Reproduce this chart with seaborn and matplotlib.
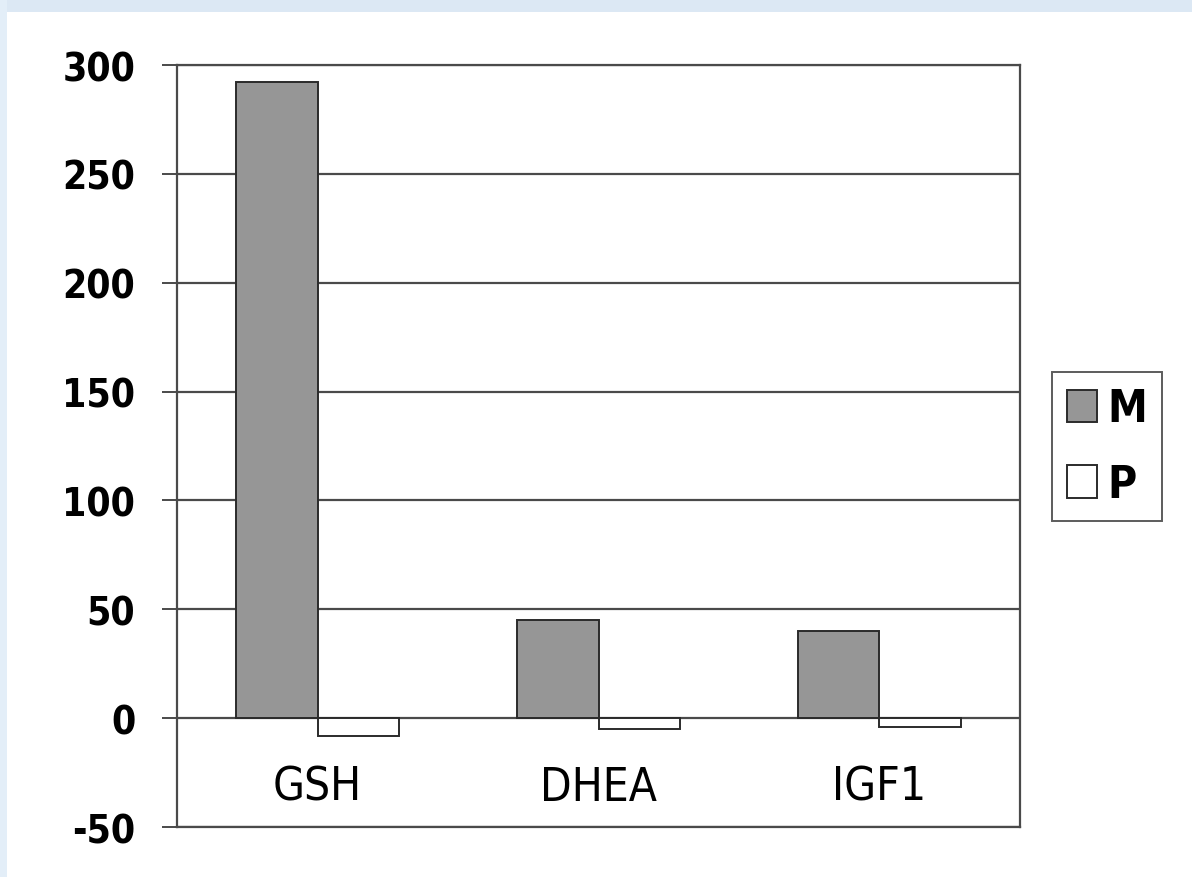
import matplotlib
matplotlib.use("Agg")
import matplotlib.pyplot as plt
import pandas as pd
import seaborn as sns
from matplotlib.patches import Rectangle

# Values
categories = ["GSH", "DHEA", "IGF1"]
m_values = [292, 45, 40]
p_values = [-8, -5, -4]
series = ["M", "P"]
y_ticks = [-50, 0, 50, 100, 150, 200, 250, 300]

df = pd.DataFrame({
    "category": categories * 2,
    "series": ["M"] * len(categories) + ["P"] * len(categories),
    "value": m_values + p_values,
})

sns.set_theme(style="white")
plt.rcParams["font.family"] = ["DejaVu Sans"]

fig = plt.figure(figsize=(11.92, 8.78), dpi=100)
fig.patch.set_facecolor("white")
# faint blue frame of the slide behind the chart
fig.patches.append(Rectangle((0, 0.985), 1, 0.015, transform=fig.transFigure,
                             facecolor="#dce8f4", edgecolor="none", zorder=-1))
fig.patches.append(Rectangle((0, 0), 0.006, 1, transform=fig.transFigure,
                             facecolor="#e3eef8", edgecolor="none", zorder=-1))

ax = fig.add_axes([0.1485, 0.0569, 0.7072, 0.8679])
ax.set_facecolor("white")

sns.barplot(data=df, x="category", y="value", hue="series", hue_order=series,
            order=categories, palette=["#969696", "white"], width=0.58, gap=0,
            edgecolor="#2b2b2b", linewidth=1.4, saturation=1, ax=ax, zorder=3)

ax.set_ylim(-50, 300)
ax.set_xlim(-0.5, 2.5)
ax.set_yticks(y_ticks)
ax.set_yticklabels([str(t) for t in y_ticks], fontweight="bold", stretch="condensed",
                   fontsize=28, color="black")
for t in y_ticks:
    ax.axhline(t, color="#4a4a4a", linewidth=1.6, zorder=2)

ax.tick_params(axis="y", left=True, length=11, width=1.4, color="#4a4a4a", pad=19)
ax.set_xticks(range(len(categories)))
ax.set_xticklabels(categories, stretch="condensed", fontsize=33, color="black")
ax.tick_params(axis="x", bottom=False, pad=-51)
ax.set_xlabel("")
ax.set_ylabel("")

for side in ["left", "right", "top", "bottom"]:
    ax.spines[side].set_visible(True)
    ax.spines[side].set_color("#4a4a4a")
    ax.spines[side].set_linewidth(1.6)

leg = ax.legend(loc="upper left", bbox_to_anchor=(1.038, 0.597), frameon=True,
                fancybox=False, edgecolor="#333333", handlelength=0.68,
                handleheight=0.74, handletextpad=0.22, labelspacing=0.74,
                borderpad=0.34, borderaxespad=0,
                prop={"weight": "bold", "stretch": "condensed", "size": 32})
leg.get_frame().set_linewidth(1.4)
for txt in leg.get_texts():
    txt.set_color("black")

fig.savefig("out.png", dpi=100)
